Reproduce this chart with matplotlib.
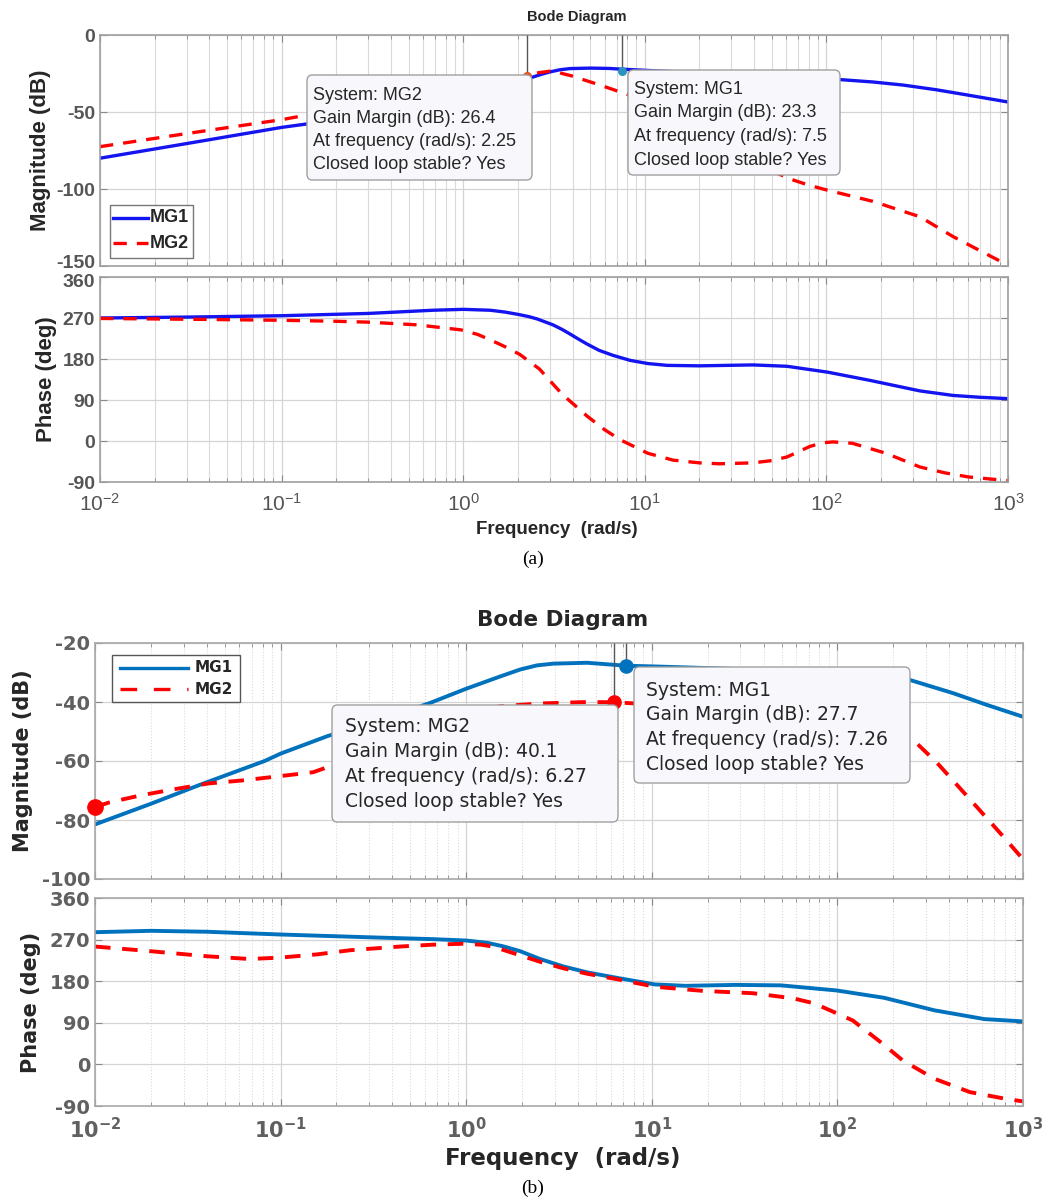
import numpy as np
import matplotlib
matplotlib.use('Agg')
import matplotlib.pyplot as plt
from matplotlib.ticker import LogLocator, NullFormatter
from matplotlib.patches import FancyBboxPatch, Rectangle
from matplotlib.lines import Line2D
from matplotlib.transforms import ScaledTranslation

plt.rcParams['mathtext.default'] = 'regular'
plt.rcParams['axes.unicode_minus'] = False

# ---------------- data: panel (a) ----------------
A_MG1_MAG_W = [0.01, 0.03, 0.1, 0.137, 0.3, 0.6, 1.0, 1.5, 2.0, 2.42, 2.7, 3.0, 3.4, 3.87, 5.0, 6.3, 7.5,
               10.3, 20, 50, 108, 180, 264, 400, 600, 1000]
A_MG1_MAG = [-80, -70.5, -60, -57.8, -51, -45, -40, -35, -30, -27.3, -25.5, -24, -22.6, -21.8, -21.5, -21.7, -22.2,
             -23, -24.5, -26.5, -28.6, -30.5, -32.5, -35.5, -39, -43.5]

A_MG2_MAG_W = [0.01, 0.03, 0.1, 0.137, 0.3, 0.6, 1.0, 1.5, 2.0, 2.25, 2.6, 3.0, 3.4, 3.97, 5.66, 7.98,
               10, 15, 20, 30, 45, 65, 80, 100, 180, 327, 500, 700, 1000]
A_MG2_MAG = [-72.5, -64, -55, -52, -46, -40, -35, -30.5, -27.5, -26.4, -24.5, -23.5, -24.6, -26.6, -32.5,
             -38.5, -44, -55, -62.5, -73.5, -86, -94, -97.5, -100.6, -108, -118, -131, -140, -149.5]

A_MG1_PH_W = [0.01, 0.03, 0.1, 0.3, 0.68, 1.0, 1.41, 1.7, 2.0, 2.3, 2.55, 2.8, 3.12, 3.5, 3.87, 4.3,
              4.8, 5.6, 6.68, 8.3, 10.4, 13.3, 20, 39.4, 60.7, 102, 174, 327, 498, 700, 1000]
A_MG1_PH = [270, 272, 275, 280, 287, 289, 287, 283, 278, 273, 268, 262, 255, 245, 235, 224,
            213, 199, 188, 177, 170, 166, 165, 167, 164, 151, 133, 110, 100, 96, 93]

A_MG2_PH_W = [0.01, 0.0356, 0.1, 0.19, 0.295, 0.557, 0.97, 1.2, 1.41, 1.7, 2.05, 2.63, 3.5, 4.8, 6.0, 7.3,
              10.4, 14.3, 20, 25.8, 39.4, 50, 60.7, 81, 95, 109, 139, 213, 327, 450, 608, 1000]
A_MG2_PH = [269, 267, 265, 263, 261, 255, 244, 234, 222, 207, 190, 158, 103, 55, 25, 3,
            -27, -42, -48, -50, -48, -43, -35, -12, -4, -2, -5, -27, -57, -70, -79, -87]

# ---------------- data: panel (b) ----------------
B_MG1_MAG_W = [0.01, 0.02, 0.037, 0.082, 0.1, 0.18, 0.3, 0.64, 1.0, 1.5, 1.95, 2.4, 2.94, 4.48, 7.26,
               11, 20, 50, 100, 200, 245, 420, 640, 1000]
B_MG1_MAG = [-81.5, -74.5, -68, -60, -57.5, -51.5, -47.5, -40.3, -35.5, -31.5, -29, -27.6, -27, -26.7, -27.7,
             -28, -28.5, -29.3, -30.3, -31.8, -32.5, -37, -41, -45]

B_MG2_MAG_W = [0.01, 0.012, 0.0175, 0.026, 0.041, 0.062, 0.097, 0.15, 0.3, 0.6, 1.0, 1.5, 2.5,
               4.5, 6.27, 10, 20, 50, 100, 150, 200, 245, 344, 518, 780, 1000]
B_MG2_MAG = [-75.6, -74, -71.7, -69.7, -67.6, -66.6, -65.2, -63.8, -57, -50, -44.5, -41.5, -40.5,
             -40, -40.1, -40.8, -41.8, -43.5, -45.5, -47.5, -49.5, -51.7, -60.6, -73, -85.5, -93.3]

B_MG1_PH_W = [0.01, 0.02, 0.04, 0.1, 0.3, 0.66, 1.0, 1.3, 1.6, 1.95, 2.5, 3.33, 4.5, 6.75, 10.4, 15.2,
              28.1, 49.5, 99, 179, 333, 620, 1000]
B_MG1_PH = [286, 289, 287, 281, 275, 271, 268, 263, 255, 245, 228, 212, 199, 186, 173, 170,
            172, 171, 160, 144, 117, 98, 93]

B_MG2_PH_W = [0.01, 0.0198, 0.04, 0.068, 0.099, 0.157, 0.237, 0.44, 0.66, 0.96, 1.2, 1.39, 1.95, 2.5,
              3.33, 4.5, 6.75, 10.4, 18.9, 35, 57.7, 75, 91.2, 121, 170, 226, 333, 518, 820, 1000]
B_MG2_PH = [255, 245, 234, 228, 231, 238, 247, 255, 259, 261, 259, 255, 236, 222,
            208, 196, 183, 168, 159, 154, 143, 132, 117, 95, 49, 8, -31, -60, -75, -80]

A_TICKS_MAG = [-150, -100, -50, 0]
B_TICKS_MAG = [-100, -80, -60, -40, -20]
TICKS_PH = [-90, 0, 90, 180, 270, 360]
XTICKS = [1e-2, 1e-1, 1e0, 1e1, 1e2, 1e3]
XTICKLABELS = ['$10^{-2}$', '$10^{-1}$', '$10^{0}$', '$10^{1}$', '$10^{2}$', '$10^{3}$']

A_MARKERS = [(2.25, -26.4, '#e0531f'), (7.5, -23.3, '#2a93c0')]
B_MARKERS = [(6.27, -40.1, '#ff0000'), (7.26, -27.7, '#0072BD')]
B_EXTRA_MARKER = (0.01, -75.6)

A_BOX_MG2 = ["System: MG2", "Gain Margin (dB): 26.4", "At frequency (rad/s): 2.25", "Closed loop stable? Yes"]
A_BOX_MG1 = ["System: MG1", "Gain Margin (dB): 23.3", "At frequency (rad/s): 7.5", "Closed loop stable? Yes"]
B_BOX_MG2 = ["System: MG2", "Gain Margin (dB): 40.1", "At frequency (rad/s): 6.27", "Closed loop stable? Yes"]
B_BOX_MG1 = ["System: MG1", "Gain Margin (dB): 27.7", "At frequency (rad/s): 7.26", "Closed loop stable? Yes"]

W, H = 1053, 1201
fig = plt.figure(figsize=(W / 100, H / 100), dpi=100)


def ax_at(l, t, r, b):
    return fig.add_axes([l / W, 1 - b / H, (r - l) / W, (b - t) / H])


def fx(x):
    return x / W


def fy(y):
    return 1 - y / H


def style_axis(ax, yticks, ylim, fam, tickcol, ytsize, xtsize, xtweight, minor_ls, spinecol, show_x):
    ax.set_xscale('log')
    ax.set_xlim(1e-2, 1e3)
    ax.set_ylim(*ylim)
    ax.set_yticks(yticks)
    ax.set_xticks(XTICKS)
    ax.xaxis.set_minor_locator(LogLocator(base=10, subs=np.arange(2, 10), numticks=20))
    ax.xaxis.set_minor_formatter(NullFormatter())
    if show_x:
        ax.set_xticklabels(XTICKLABELS)
    else:
        ax.set_xticklabels([])
    ax.grid(True, which='major', color='#d4d4d4', lw=0.9, ls='-')
    ax.grid(True, which='minor', axis='x', color='#dadada', lw=0.8, ls=minor_ls)
    ax.set_axisbelow(True)
    ax.tick_params(which='both', direction='in', top=True, right=True, color='#888888')
    ax.tick_params(which='major', length=5)
    ax.tick_params(which='minor', length=3)
    ax.tick_params(axis='x', pad=8)
    for s in ax.spines.values():
        s.set_color(spinecol)
        s.set_linewidth(1.2)
    for lab in ax.get_yticklabels():
        lab.set_family(fam)
        lab.set_fontweight('bold')
        lab.set_fontsize(ytsize)
        lab.set_color(tickcol)
    for lab in ax.get_xticklabels():
        lab.set_family(fam)
        lab.set_fontweight(xtweight)
        lab.set_fontsize(xtsize)
        lab.set_color(tickcol)


def nudge_label(ax, value, dy_px):
    for t, lab in zip(ax.get_yticks(), ax.get_yticklabels()):
        if t == value:
            lab.set_transform(lab.get_transform() + ScaledTranslation(0, dy_px / 100, fig.dpi_scale_trans))


BLUE_A = '#1414f0'
RED = '#ff0000'
BLUE_B = '#0072BD'
FA = 'Liberation Sans'
FB = 'DejaVu Sans'

# ---------------- panel (a) ----------------
axm = ax_at(100, 35, 1008, 266)
axp = ax_at(100, 277, 1008, 482)
style_axis(axm, A_TICKS_MAG, (-150, 0), FA, '#555555', 14, 15, 'normal', '-', '#a0a0a0', False)
style_axis(axp, TICKS_PH, (-90, 360), FA, '#555555', 14, 15, 'normal', '-', '#a0a0a0', True)
nudge_label(axm, -150, 4)
nudge_label(axp, 360, -3)

axm.plot(A_MG1_MAG_W, A_MG1_MAG, color=BLUE_A, lw=2.4)
axm.plot(A_MG2_MAG_W, A_MG2_MAG, color=RED, lw=2.4, ls=(0, (4, 3)))
axp.plot(A_MG1_PH_W, A_MG1_PH, color=BLUE_A, lw=2.4)
axp.plot(A_MG2_PH_W, A_MG2_PH, color=RED, lw=2.4, ls=(0, (4, 3)))
for (w, m, c) in A_MARKERS:
    axm.vlines(w, m, 0, color='#555555', lw=1.0, zorder=3)
    axm.plot([w], [m], 'o', color=c, ms=5.5, zorder=5)

axm.set_ylabel('Magnitude (dB)', family=FA, fontweight='bold', fontsize=16, color='#262626', labelpad=4)
axp.set_ylabel('Phase (deg)', family=FA, fontweight='bold', fontsize=16, color='#262626', labelpad=4)
fig.text(fx(577), fy(17), 'Bode Diagram', family=FA, fontweight='bold', fontsize=10.5,
         color='#262626', ha='center', va='center')
fig.text(fx(557), fy(530), 'Frequency  (rad/s)', family=FA, fontweight='bold', fontsize=13.5,
         color='#262626', ha='center', va='center')
fig.text(fx(533), fy(559), '(a)', family='Liberation Serif', fontsize=14, color='black',
         ha='center', va='center')

# ---------------- panel (b) ----------------
bxm = ax_at(95, 643, 1023, 879)
bxp = ax_at(95, 898, 1023, 1106)
style_axis(bxm, B_TICKS_MAG, (-100, -20), FB, '#606060', 14, 15, 'bold', ':', '#a8a8a8', False)
style_axis(bxp, TICKS_PH, (-90, 360), FB, '#606060', 14, 15, 'bold', ':', '#a8a8a8', True)

bxm.plot(B_MG1_MAG_W, B_MG1_MAG, color=BLUE_B, lw=2.8)
bxm.plot(B_MG2_MAG_W, B_MG2_MAG, color=RED, lw=2.8, ls=(0, (4, 3)))
bxp.plot(B_MG1_PH_W, B_MG1_PH, color=BLUE_B, lw=2.8)
bxp.plot(B_MG2_PH_W, B_MG2_PH, color=RED, lw=2.8, ls=(0, (4, 3)))
for (w, m, c) in B_MARKERS:
    bxm.vlines(w, m, -20, color='#555555', lw=1.0, zorder=3)
    bxm.plot([w], [m], 'o', color=c, ms=9.5, zorder=5)
bxm.plot([B_EXTRA_MARKER[0]], [B_EXTRA_MARKER[1]], 'o', color=RED, ms=11, zorder=5, clip_on=False)

bxm.set_ylabel('Magnitude (dB)', family=FB, fontweight='bold', fontsize=15, color='#262626', labelpad=6)
bxp.set_ylabel('Phase (deg)', family=FB, fontweight='bold', fontsize=15, color='#262626', labelpad=6)
fig.text(fx(563), fy(620), 'Bode Diagram', family=FB, fontweight='bold', fontsize=15.5,
         color='#262626', ha='center', va='center')
fig.text(fx(563), fy(1158), 'Frequency  (rad/s)', family=FB, fontweight='bold', fontsize=16.5,
         color='#262626', ha='center', va='center')
fig.text(fx(533), fy(1188), '(b)', family='Liberation Serif', fontsize=14, color='black',
         ha='center', va='center')


# ---------------- data-tip boxes ----------------
def datatip(x0, y0, x1, y1, lines, tx, ty0, dy, fam, fs):
    box = FancyBboxPatch((fx(x0), fy(y1)), fx(x1 - x0), (y1 - y0) / H,
                         boxstyle='round,pad=0,rounding_size=0.005',
                         transform=fig.transFigure, fc='#f8f8fc', ec='#a0a0a0', lw=1.0, zorder=10)
    fig.add_artist(box)
    for i, s in enumerate(lines):
        fig.text(fx(tx), fy(ty0 + i * dy), s, family=fam, fontsize=fs, color='#262626',
                 ha='left', va='center', zorder=11)


datatip(307, 75, 532, 180, A_BOX_MG2, 313, 95, 23.3, FA, 13)
datatip(628, 70, 840, 175, A_BOX_MG1, 634, 89, 23.7, FA, 13)
datatip(332, 705, 618, 822, B_BOX_MG2, 345, 727, 24.7, FB, 13.5)
datatip(634, 667, 910, 783, B_BOX_MG1, 646, 690, 24.7, FB, 13.5)


# ---------------- legends ----------------
def legend(x0, y0, x1, y1, entries, lx0, lx1, tx, ys, fam, fs, lw, dash, ec):
    r = Rectangle((fx(x0), fy(y1)), fx(x1 - x0), (y1 - y0) / H, transform=fig.transFigure,
                  fc='white', ec=ec, lw=1.0, zorder=10)
    fig.add_artist(r)
    for (name, col, ls), y in zip(entries, ys):
        ln = Line2D([fx(lx0), fx(lx1)], [fy(y), fy(y)], transform=fig.transFigure, color=col,
                    lw=lw, ls=(ls if ls == '-' else dash), zorder=11)
        fig.add_artist(ln)
        fig.text(fx(tx), fy(y), name, family=fam, fontweight='bold', fontsize=fs, color='#262626',
                 ha='left', va='center', zorder=11)


legend(110, 205, 193, 258, [('MG1', BLUE_A, '-'), ('MG2', RED, '--')], 113, 148, 150, [218, 243],
       FA, 13, 2.4, (0, (4, 3)), '#777777')
legend(112, 655, 240, 702, [('MG1', BLUE_B, '-'), ('MG2', RED, '--')], 120, 188, 195, [668, 689],
       FB, 11, 2.4, (0, (5, 5)), '#555555')

fig.savefig('out.png', dpi=100)
